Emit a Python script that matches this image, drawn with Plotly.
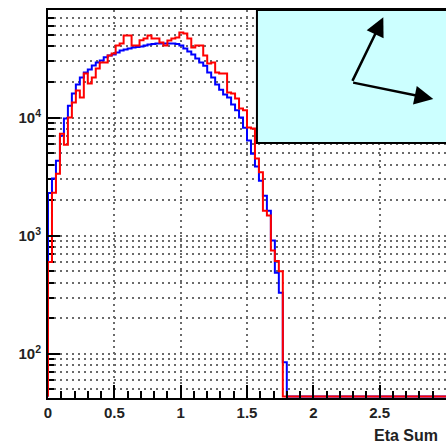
import plotly.graph_objects as go

# Histogram binning (Eta Sum)
x_lo, x_hi = 0.0, 3.0
bin_width = 0.03
n_bins = 100

# Bin contents for the first 60 bins (0 - 1.8); remaining bins are empty
blue_counts = [2300, 3050, 4300, 7000, 9800, 12600, 16000, 19000, 21800, 24000,
               25500, 27600, 29200, 30400, 32300, 33500, 34200, 35600, 37000, 37700,
               38400, 39200, 39600, 40000, 40800, 41600, 42000, 42400, 42400, 42400,
               42400, 42400, 42000, 40800, 38400, 36200, 34200, 31600, 29200, 27400,
               24000, 21800, 19000, 17200, 15700, 14800, 12900, 11500, 10000, 8200,
               6400, 4950, 3850, 2920, 2180, 1630, 910, 485, 330, 85]
red_counts = [600, 2310, 3350, 7300, 5900, 10000, 13400, 16900, 14800, 23600,
              19400, 21800, 26000, 29200, 29200, 33500, 34800, 40800, 42400, 49500,
              49500, 40800, 40800, 45000, 46700, 49500, 46700, 46700, 43200, 40800,
              44800, 46700, 47600, 52500, 51500, 46700, 39200, 40800, 40800, 33500,
              28700, 29200, 24000, 23600, 23600, 16300, 16000, 14500, 11900, 11500,
              8230, 8060, 4500, 3450, 1630, 1480, 750, 610, 500, 0]

# Axis settings
x_major = [0, 0.5, 1, 1.5, 2, 2.5, 3]
x_minor = [round(0.1 * i, 1) for i in range(31)]
y_log_range = [1.627, 4.91]
y_decades = [100, 1000, 10000]
y_decade_text = ["10<sup>2</sup>", "10<sup>3</sup>", "10<sup>4</sup>"]
y_all = [m * 10 ** d for d in (1, 2, 3, 4) for m in range(1, 10)]

# empty bins are drawn on the bottom of the frame
floor = 10 ** (y_log_range[0] + 0.012)


def step_outline(counts):
    full = counts + [0] * (n_bins - len(counts))
    edges = [x_lo + bin_width * i for i in range(n_bins + 1)]
    ys = [max(c, floor) for c in full]
    return [edges[0]] + edges, [floor] + ys + [ys[-1]]


fig = go.Figure()
for counts, color in ((blue_counts, "#0000ff"), (red_counts, "#ff0000")):
    xs, ys = step_outline(counts)
    fig.add_trace(go.Scatter(x=xs, y=ys, mode="lines", line_shape="hv",
                             line=dict(color=color, width=2), showlegend=False,
                             hoverinfo="skip"))
# empty trace so the overlay tick axes are always built
fig.add_trace(go.Scatter(x=[None], y=[None], xaxis="x2", yaxis="y2",
                         showlegend=False, hoverinfo="skip"))

font_main = dict(family="Liberation Sans", size=15, color="#222222", weight="bold")
grid_style = dict(showgrid=True, gridcolor="#6a6a6a", gridwidth=2, griddash="2px,4px")
tick_style = dict(ticks="inside", tickwidth=1.5, tickcolor="black")

fig.update_layout(
    xaxis=dict(range=[x_lo, x_hi], tickmode="array", tickvals=x_major,
               ticklen=13, showline=True, linewidth=2, linecolor="black",
               mirror=True, layer="below traces", zeroline=False,
               tickfont=font_main, **tick_style, **grid_style),
    xaxis2=dict(range=[x_lo, x_hi], overlaying="x", anchor="y", side="bottom",
                tickmode="array", tickvals=x_minor, ticklen=7,
                showticklabels=False, showgrid=False, zeroline=False,
                showline=False, **tick_style),
    yaxis=dict(type="log", range=y_log_range, tickmode="array", tickvals=y_all,
               ticklen=6, showticklabels=False, showline=True, linewidth=2,
               linecolor="black", layer="below traces", zeroline=False,
               **tick_style, **grid_style),
    yaxis2=dict(type="log", range=y_log_range, overlaying="y", anchor="x",
                side="left", tickmode="array", tickvals=y_decades,
                ticktext=y_decade_text, ticklen=12, showgrid=False,
                zeroline=False, showline=False, tickfont=font_main,
                ticklabelstandoff=6, **tick_style),
)

# inset panel with two arrows
fig.add_shape(type="rect", xref="paper", yref="paper", x0=0.525, x1=1.05,
              y0=0.657, y1=1.0, fillcolor="#ccffff",
              line=dict(color="black", width=2), layer="above")
for hx, hy, ax, ay in ((0.8425, 0.981, -31.6, 65), (0.968, 0.7706, -81.6, -16.7)):
    fig.add_annotation(xref="paper", yref="paper", x=hx, y=hy, ax=ax, ay=ay,
                       text="", showarrow=True, arrowhead=2, arrowsize=1.5,
                       arrowwidth=2.5, arrowcolor="black", standoff=0)

fig.add_annotation(xref="paper", yref="paper", x=0.985, y=-0.0954,
                   xanchor="right", yanchor="middle", showarrow=False,
                   text="Eta Sum",
                   font=dict(family="Liberation Sans", size=16, color="#222222",
                             weight="bold"))

fig.update_layout(width=446, height=441,
                  margin=dict(l=48, r=0, t=10, b=43),
                  plot_bgcolor="white", paper_bgcolor="white")

fig.write_html("out.html")
